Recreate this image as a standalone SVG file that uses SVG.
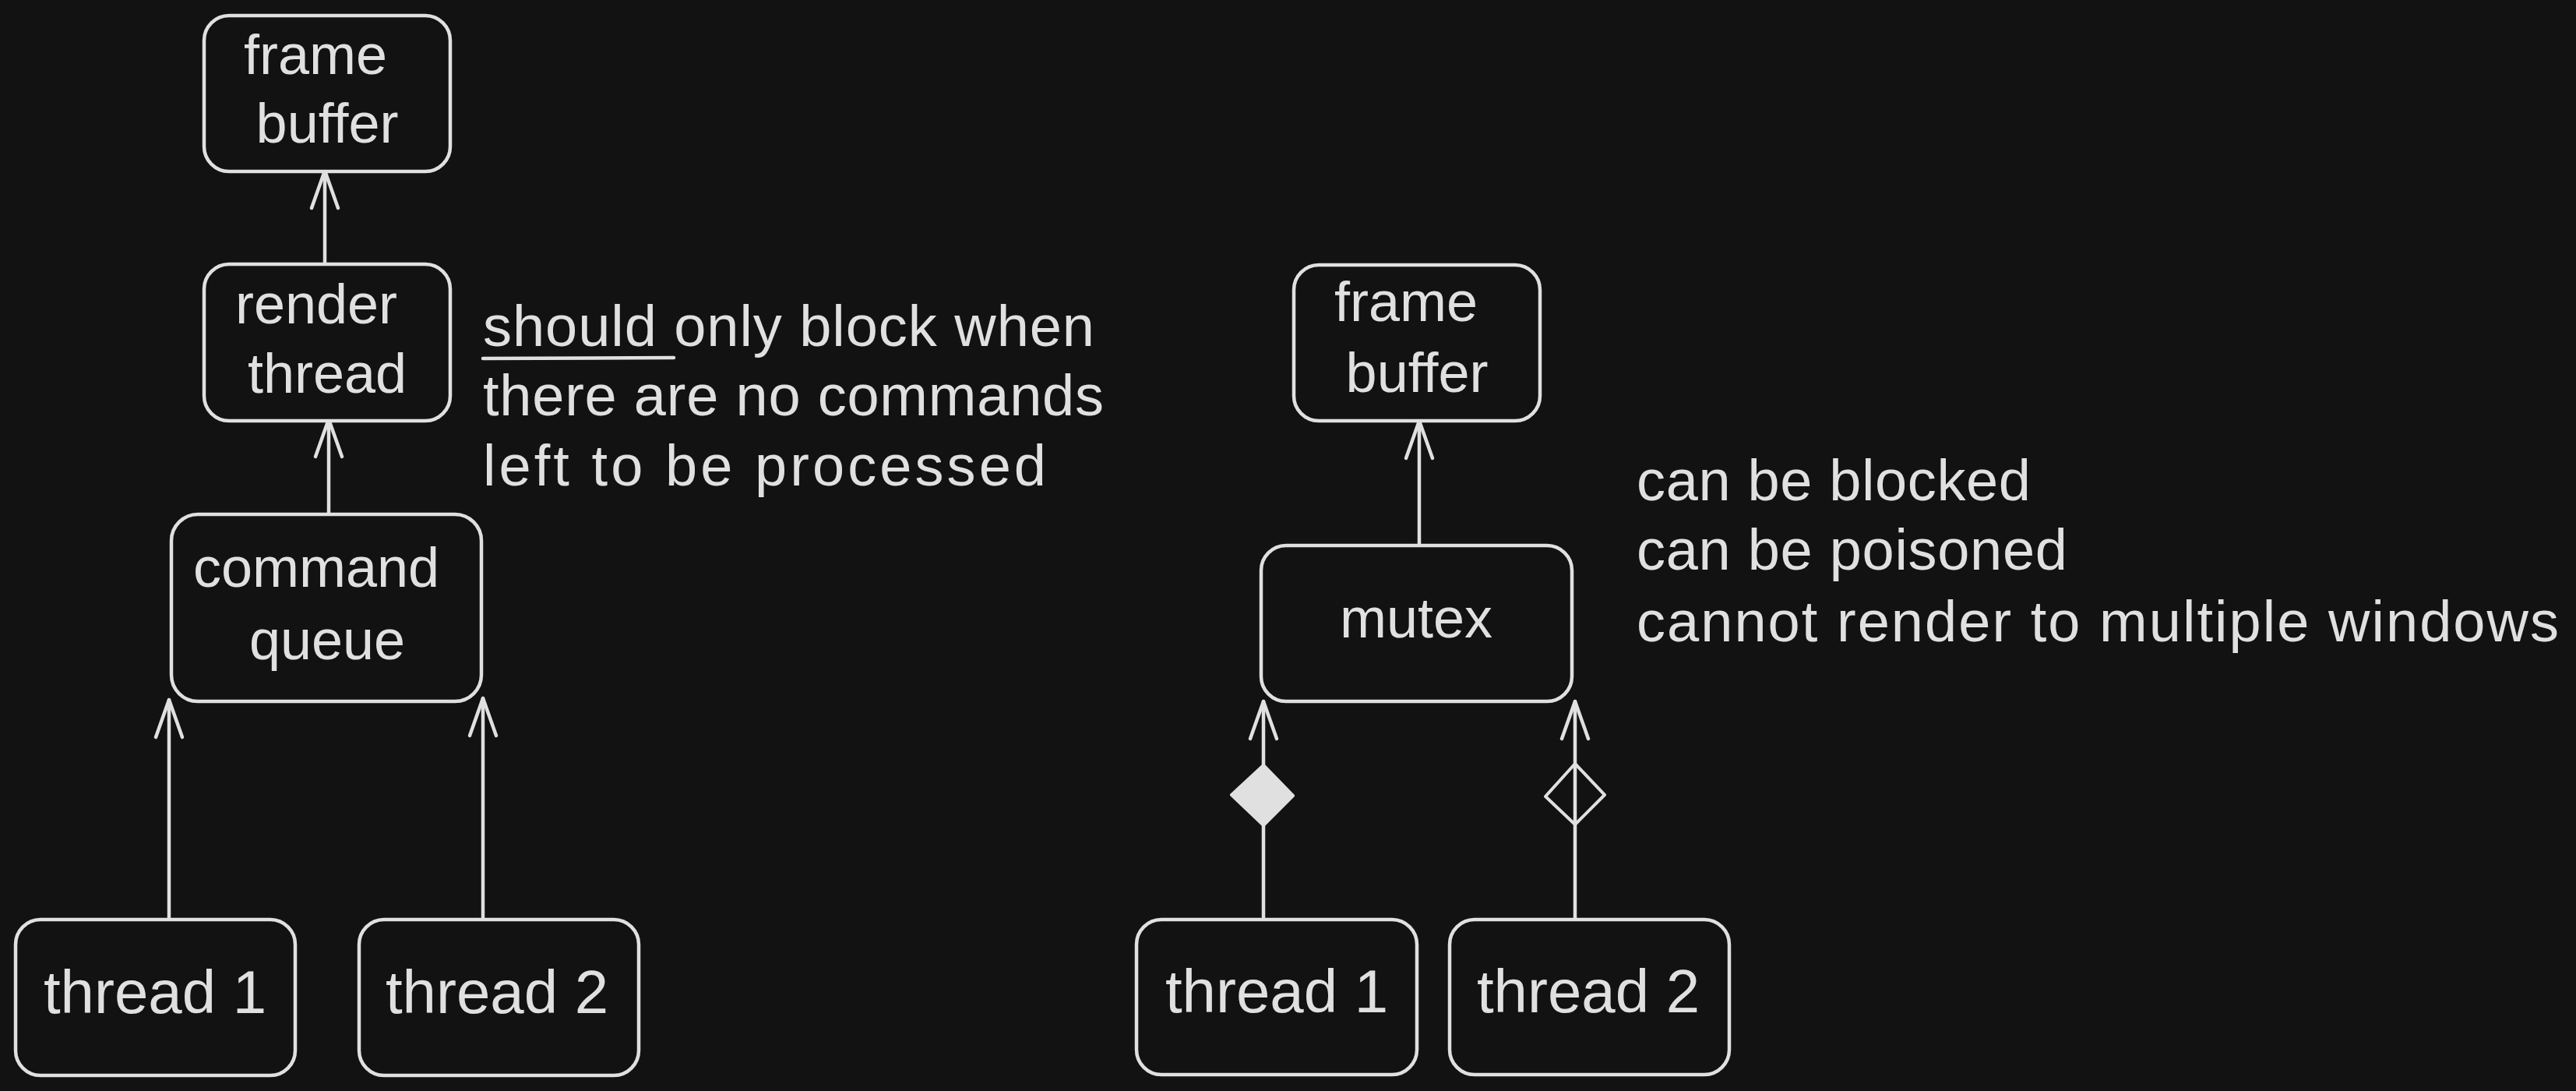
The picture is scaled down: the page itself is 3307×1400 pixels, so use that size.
<svg xmlns="http://www.w3.org/2000/svg" width="3307" height="1400" viewBox="0 0 3307 1400">
<style>
.box{fill:#121212;stroke:#e0e0e0;stroke-width:4.5}
.lbl{font-family:"Liberation Sans",Arial,sans-serif;font-size:72px;fill:#e0e0e0;text-anchor:middle}
.thr{font-size:78px}
.note{font-family:"Liberation Sans",Arial,sans-serif;font-size:74px;fill:#e0e0e0}
.con{fill:none;stroke:#e0e0e0;stroke-width:4.5;stroke-linecap:round}
</style>
<defs>
<marker id="arr" markerUnits="userSpaceOnUse" viewBox="-52 -22 58 44" markerWidth="58" markerHeight="44" refX="0" refY="0" orient="auto">
<path d="M -48 -17 L 0 0 L -48 17" fill="none" stroke="#e0e0e0" stroke-width="4.5" stroke-linecap="round" stroke-linejoin="round"/>
</marker>
</defs>
<rect width="3307" height="1400" fill="#121212"/>
<g id="connectors">
<path class="con" d="M 417 339 L 417 219" marker-end="url(#arr)"/>
<path class="con" d="M 422 660 L 422 538" marker-end="url(#arr)"/>
<path class="con" d="M 217 1180 L 217 898" marker-end="url(#arr)"/>
<path class="con" d="M 620 1180 L 620 896" marker-end="url(#arr)"/>
<path class="con" d="M 1822 700 L 1822 540" marker-end="url(#arr)"/>
<path class="con" d="M 1622 1180 L 1622 900" marker-end="url(#arr)"/>
<path d="M 1622 982 L 1660 1021 L 1622 1059 L 1581 1020 Z" fill="#e0e0e0" stroke="#e0e0e0" stroke-width="4" stroke-linejoin="round"/>
<path class="con" d="M 2022 1180 L 2022 900" marker-end="url(#arr)"/>
<path d="M 2022 980 L 2060 1020 L 2022 1058 L 1984 1022 Z" fill="none" stroke="#e0e0e0" stroke-width="4" stroke-linejoin="round"/>
</g>
<g id="left-frame-buffer">
<rect class="box" x="262" y="20" width="316" height="200" rx="32"/>
<text class="lbl" x="405" y="95">frame</text>
<text class="lbl" x="420" y="183">buffer</text>
</g>
<g id="left-render-thread">
<rect class="box" x="262" y="339" width="316" height="201" rx="32"/>
<text class="lbl" x="406" y="415">render</text>
<text class="lbl" x="420" y="504">thread</text>
</g>
<g id="left-command-queue">
<rect class="box" x="220" y="660" width="398" height="240" rx="34"/>
<text class="lbl" x="406" y="753">command</text>
<text class="lbl" x="420" y="846">queue</text>
</g>
<g id="left-thread-1">
<rect class="box" x="20" y="1180" width="359" height="200" rx="32"/>
<text class="lbl thr" x="199" y="1300">thread 1</text>
</g>
<g id="left-thread-2">
<rect class="box" x="461" y="1180" width="359" height="200" rx="32"/>
<text class="lbl thr" x="638" y="1300">thread 2</text>
</g>
<g id="left-note">
<text class="note" x="620" y="444" textLength="785">should only block when</text>
<text class="note" x="620" y="533" textLength="797">there are no commands</text>
<text class="note" x="620" y="623" textLength="723">left to be processed</text>
<path d="M 620 460 L 865 459" fill="none" stroke="#e0e0e0" stroke-width="4.5" stroke-linecap="round"/>
</g>
<g id="right-frame-buffer">
<rect class="box" x="1661" y="340" width="316" height="200" rx="32"/>
<text class="lbl" x="1805" y="412">frame</text>
<text class="lbl" x="1819" y="503">buffer</text>
</g>
<g id="right-mutex">
<rect class="box" x="1619" y="700" width="399" height="200" rx="32"/>
<text class="lbl" x="1818" y="818">mutex</text>
</g>
<g id="right-thread-1">
<rect class="box" x="1459" y="1180" width="360" height="199" rx="32"/>
<text class="lbl thr" x="1639" y="1299">thread 1</text>
</g>
<g id="right-thread-2">
<rect class="box" x="1861" y="1180" width="359" height="199" rx="32"/>
<text class="lbl thr" x="2039" y="1299">thread 2</text>
</g>
<g id="right-note">
<text class="note" x="2101" y="642" textLength="506">can be blocked</text>
<text class="note" x="2101" y="731" textLength="553">can be poisoned</text>
<text class="note" x="2101" y="823" textLength="1184">cannot render to multiple windows</text>
</g>
</svg>
